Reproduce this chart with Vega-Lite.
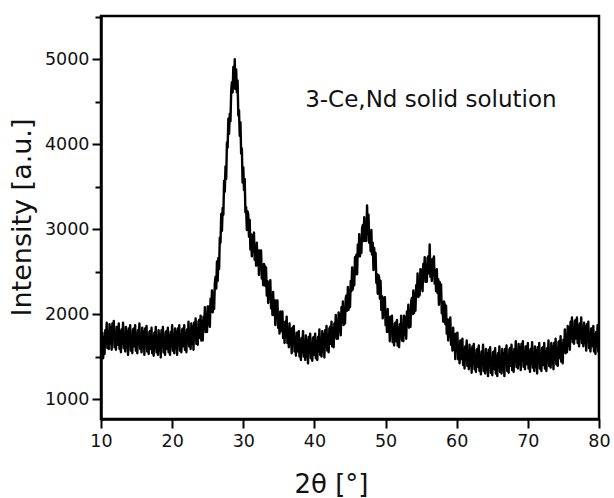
{
"$schema": "https://vega.github.io/schema/vega-lite/v6.json",
"autosize": {"type": "none"},
"padding": {"left": 101, "top": 16, "right": 15, "bottom": 79},
"width": 498,
"height": 403,
"background": "white",
"config": {
 "view": {"stroke": "black", "strokeWidth": 2.5},
 "font": "DejaVu Sans",
 "axis": {"grid": false, "domainColor": "black", "domainWidth": 2.5, "tickColor": "black", "tickWidth": 2, "labelColor": "#111111", "titleColor": "#111111", "labelFont": "DejaVu Sans", "titleFont": "DejaVu Sans", "titleFontWeight": "normal"}
},
"layer": [
 {
  "data": {"values": [
{"x":10.0,"y":1740},{"x":10.1,"y":1530},{"x":10.2,"y":1780},{"x":10.3,"y":1480},{"x":10.4,"y":1720},{"x":10.5,"y":1530},{"x":10.6,"y":1810},{"x":10.7,"y":1650},{"x":10.8,"y":1900},{"x":10.9,"y":1600},
{"x":11.0,"y":1770},{"x":11.1,"y":1590},{"x":11.2,"y":1880},{"x":11.3,"y":1650},{"x":11.4,"y":1840},{"x":11.5,"y":1580},{"x":11.6,"y":1890},{"x":11.7,"y":1700},{"x":11.8,"y":1920},{"x":11.9,"y":1610},
{"x":12.0,"y":1760},{"x":12.1,"y":1580},{"x":12.2,"y":1850},{"x":12.3,"y":1850},{"x":12.4,"y":1640},{"x":12.5,"y":1890},{"x":12.6,"y":1590},{"x":12.7,"y":1790},{"x":12.8,"y":1550},{"x":12.9,"y":1820},
{"x":13.0,"y":1660},{"x":13.1,"y":1900},{"x":13.2,"y":1600},{"x":13.3,"y":1750},{"x":13.4,"y":1560},{"x":13.5,"y":1850},{"x":13.6,"y":1610},{"x":13.7,"y":1800},{"x":13.8,"y":1520},{"x":13.9,"y":1830},
{"x":14.0,"y":1650},{"x":14.1,"y":1870},{"x":14.2,"y":1570},{"x":14.3,"y":1720},{"x":14.4,"y":1540},{"x":14.5,"y":1820},{"x":14.6,"y":1830},{"x":14.7,"y":1620},{"x":14.8,"y":1870},{"x":14.9,"y":1570},
{"x":15.0,"y":1770},{"x":15.1,"y":1540},{"x":15.2,"y":1810},{"x":15.3,"y":1650},{"x":15.4,"y":1890},{"x":15.5,"y":1590},{"x":15.6,"y":1740},{"x":15.7,"y":1550},{"x":15.8,"y":1840},{"x":15.9,"y":1600},
{"x":16.0,"y":1790},{"x":16.1,"y":1520},{"x":16.2,"y":1830},{"x":16.3,"y":1640},{"x":16.4,"y":1860},{"x":16.5,"y":1560},{"x":16.6,"y":1710},{"x":16.7,"y":1530},{"x":16.8,"y":1790},{"x":16.9,"y":1800},
{"x":17.0,"y":1590},{"x":17.1,"y":1840},{"x":17.2,"y":1540},{"x":17.3,"y":1740},{"x":17.4,"y":1510},{"x":17.5,"y":1780},{"x":17.6,"y":1610},{"x":17.7,"y":1850},{"x":17.8,"y":1550},{"x":17.9,"y":1710},
{"x":18.0,"y":1520},{"x":18.1,"y":1810},{"x":18.2,"y":1570},{"x":18.3,"y":1760},{"x":18.4,"y":1490},{"x":18.5,"y":1810},{"x":18.6,"y":1630},{"x":18.7,"y":1850},{"x":18.8,"y":1550},{"x":18.9,"y":1700},
{"x":19.0,"y":1520},{"x":19.1,"y":1790},{"x":19.2,"y":1800},{"x":19.3,"y":1590},{"x":19.4,"y":1840},{"x":19.5,"y":1550},{"x":19.6,"y":1750},{"x":19.7,"y":1520},{"x":19.8,"y":1790},{"x":19.9,"y":1630},
{"x":20.0,"y":1870},{"x":20.1,"y":1570},{"x":20.2,"y":1730},{"x":20.3,"y":1540},{"x":20.4,"y":1830},{"x":20.5,"y":1600},{"x":20.6,"y":1790},{"x":20.7,"y":1520},{"x":20.8,"y":1830},{"x":20.9,"y":1650},
{"x":21.0,"y":1870},{"x":21.1,"y":1570},{"x":21.2,"y":1720},{"x":21.3,"y":1550},{"x":21.4,"y":1820},{"x":21.5,"y":1830},{"x":21.6,"y":1620},{"x":21.7,"y":1870},{"x":21.8,"y":1580},{"x":21.9,"y":1780},
{"x":22.0,"y":1550},{"x":22.1,"y":1820},{"x":22.2,"y":1670},{"x":22.3,"y":1910},{"x":22.4,"y":1620},{"x":22.5,"y":1780},{"x":22.6,"y":1590},{"x":22.7,"y":1890},{"x":22.8,"y":1650},{"x":22.9,"y":1850},
{"x":23.0,"y":1580},{"x":23.1,"y":1900},{"x":23.2,"y":1720},{"x":23.3,"y":1950},{"x":23.4,"y":1650},{"x":23.5,"y":1810},{"x":23.6,"y":1640},{"x":23.7,"y":1910},{"x":23.8,"y":1930},{"x":23.9,"y":1720},
{"x":24.0,"y":1980},{"x":24.1,"y":1690},{"x":24.2,"y":1910},{"x":24.3,"y":1690},{"x":24.4,"y":1970},{"x":24.5,"y":1830},{"x":24.6,"y":2080},{"x":24.7,"y":1790},{"x":24.8,"y":1960},{"x":24.9,"y":1790},
{"x":25.0,"y":2090},{"x":25.1,"y":1880},{"x":25.2,"y":2090},{"x":25.3,"y":1850},{"x":25.4,"y":2180},{"x":25.5,"y":2030},{"x":25.6,"y":2280},{"x":25.7,"y":2020},{"x":25.8,"y":2200},{"x":25.9,"y":2060},
{"x":26.0,"y":2360},{"x":26.1,"y":2440},{"x":26.2,"y":2300},{"x":26.3,"y":2620},{"x":26.4,"y":2390},{"x":26.5,"y":2660},{"x":26.6,"y":2530},{"x":26.7,"y":2900},{"x":26.8,"y":2840},{"x":26.9,"y":3180},
{"x":27.0,"y":2980},{"x":27.1,"y":3250},{"x":27.2,"y":3170},{"x":27.3,"y":3570},{"x":27.4,"y":3440},{"x":27.5,"y":3740},{"x":27.6,"y":3590},{"x":27.7,"y":4020},{"x":27.8,"y":3960},{"x":27.9,"y":4300},
{"x":28.0,"y":4120},{"x":28.1,"y":4360},{"x":28.2,"y":4270},{"x":28.3,"y":4630},{"x":28.4,"y":4730},{"x":28.5,"y":4610},{"x":28.6,"y":4910},{"x":28.7,"y":4660},{"x":28.8,"y":5000},{"x":28.9,"y":4650},
{"x":29.0,"y":4880},{"x":29.1,"y":4610},{"x":29.2,"y":4750},{"x":29.3,"y":4340},{"x":29.4,"y":4400},{"x":29.5,"y":4100},{"x":29.6,"y":4260},{"x":29.7,"y":3890},{"x":29.8,"y":3950},{"x":29.9,"y":3550},
{"x":30.0,"y":3730},{"x":30.1,"y":3460},{"x":30.2,"y":3590},{"x":30.3,"y":3200},{"x":30.4,"y":3260},{"x":30.5,"y":2990},{"x":30.6,"y":3210},{"x":30.7,"y":3170},{"x":30.8,"y":2910},{"x":30.9,"y":3110},
{"x":31.0,"y":2760},{"x":31.1,"y":2940},{"x":31.2,"y":2680},{"x":31.3,"y":2930},{"x":31.4,"y":2740},{"x":31.5,"y":2960},{"x":31.6,"y":2640},{"x":31.7,"y":2780},{"x":31.8,"y":2570},{"x":31.9,"y":2840},
{"x":32.0,"y":2580},{"x":32.1,"y":2750},{"x":32.2,"y":2460},{"x":32.3,"y":2750},{"x":32.4,"y":2550},{"x":32.5,"y":2750},{"x":32.6,"y":2420},{"x":32.7,"y":2550},{"x":32.8,"y":2340},{"x":32.9,"y":2590},
{"x":33.0,"y":2570},{"x":33.1,"y":2330},{"x":33.2,"y":2550},{"x":33.3,"y":2220},{"x":33.4,"y":2390},{"x":33.5,"y":2130},{"x":33.6,"y":2370},{"x":33.7,"y":2180},{"x":33.8,"y":2400},{"x":33.9,"y":2070},
{"x":34.0,"y":2200},{"x":34.1,"y":1990},{"x":34.2,"y":2260},{"x":34.3,"y":1990},{"x":34.4,"y":2160},{"x":34.5,"y":1870},{"x":34.6,"y":2160},{"x":34.7,"y":1960},{"x":34.8,"y":2160},{"x":34.9,"y":1840},
{"x":35.0,"y":1970},{"x":35.1,"y":1770},{"x":35.2,"y":2030},{"x":35.3,"y":2020},{"x":35.4,"y":1800},{"x":35.5,"y":2030},{"x":35.6,"y":1720},{"x":35.7,"y":1900},{"x":35.8,"y":1660},{"x":35.9,"y":1910},
{"x":36.0,"y":1740},{"x":36.1,"y":1970},{"x":36.2,"y":1660},{"x":36.3,"y":1810},{"x":36.4,"y":1610},{"x":36.5,"y":1890},{"x":36.6,"y":1640},{"x":36.7,"y":1820},{"x":36.8,"y":1540},{"x":36.9,"y":1840},
{"x":37.0,"y":1650},{"x":37.1,"y":1860},{"x":37.2,"y":1560},{"x":37.3,"y":1700},{"x":37.4,"y":1510},{"x":37.5,"y":1780},{"x":37.6,"y":1780},{"x":37.7,"y":1560},{"x":37.8,"y":1800},{"x":37.9,"y":1500},
{"x":38.0,"y":1690},{"x":38.1,"y":1460},{"x":38.2,"y":1720},{"x":38.3,"y":1560},{"x":38.4,"y":1800},{"x":38.5,"y":1500},{"x":38.6,"y":1650},{"x":38.7,"y":1460},{"x":38.8,"y":1750},{"x":38.9,"y":1500},
{"x":39.0,"y":1690},{"x":39.1,"y":1420},{"x":39.2,"y":1730},{"x":39.3,"y":1550},{"x":39.4,"y":1770},{"x":39.5,"y":1480},{"x":39.6,"y":1630},{"x":39.7,"y":1450},{"x":39.8,"y":1720},{"x":39.9,"y":1730},
{"x":40.0,"y":1520},{"x":40.1,"y":1770},{"x":40.2,"y":1480},{"x":40.3,"y":1680},{"x":40.4,"y":1460},{"x":40.5,"y":1730},{"x":40.6,"y":1570},{"x":40.7,"y":1820},{"x":40.8,"y":1520},{"x":40.9,"y":1690},
{"x":41.0,"y":1500},{"x":41.1,"y":1800},{"x":41.2,"y":1560},{"x":41.3,"y":1760},{"x":41.4,"y":1490},{"x":41.5,"y":1810},{"x":41.6,"y":1640},{"x":41.7,"y":1860},{"x":41.8,"y":1570},{"x":41.9,"y":1720},
{"x":42.0,"y":1550},{"x":42.1,"y":1830},{"x":42.2,"y":1850},{"x":42.3,"y":1650},{"x":42.4,"y":1910},{"x":42.5,"y":1620},{"x":42.6,"y":1830},{"x":42.7,"y":1610},{"x":42.8,"y":1890},{"x":42.9,"y":1740},
{"x":43.0,"y":1990},{"x":43.1,"y":1710},{"x":43.2,"y":1880},{"x":43.3,"y":1710},{"x":43.4,"y":2020},{"x":43.5,"y":1800},{"x":43.6,"y":2000},{"x":43.7,"y":1750},{"x":43.8,"y":2080},{"x":43.9,"y":1910},
{"x":44.0,"y":2150},{"x":44.1,"y":1870},{"x":44.2,"y":2050},{"x":44.3,"y":1890},{"x":44.4,"y":2190},{"x":44.5,"y":2220},{"x":44.6,"y":2040},{"x":44.7,"y":2320},{"x":44.8,"y":2050},{"x":44.9,"y":2280},
{"x":45.0,"y":2080},{"x":45.1,"y":2390},{"x":45.2,"y":2270},{"x":45.3,"y":2550},{"x":45.4,"y":2290},{"x":45.5,"y":2490},{"x":45.6,"y":2340},{"x":45.7,"y":2670},{"x":45.8,"y":2470},{"x":45.9,"y":2700},
{"x":46.0,"y":2470},{"x":46.1,"y":2820},{"x":46.2,"y":2680},{"x":46.3,"y":2940},{"x":46.4,"y":2680},{"x":46.5,"y":2870},{"x":46.6,"y":2720},{"x":46.7,"y":3010},{"x":46.8,"y":3050},{"x":46.9,"y":2860},
{"x":47.0,"y":3140},{"x":47.1,"y":2860},{"x":47.2,"y":3070},{"x":47.3,"y":2860},{"x":47.4,"y":3280},{"x":47.5,"y":2940},{"x":47.6,"y":3170},{"x":47.7,"y":2840},{"x":47.8,"y":2960},{"x":47.9,"y":2740},
{"x":48.0,"y":2990},{"x":48.1,"y":2700},{"x":48.2,"y":2840},{"x":48.3,"y":2520},{"x":48.4,"y":2780},{"x":48.5,"y":2550},{"x":48.6,"y":2720},{"x":48.7,"y":2370},{"x":48.8,"y":2470},{"x":48.9,"y":2240},
{"x":49.0,"y":2460},{"x":49.1,"y":2430},{"x":49.2,"y":2180},{"x":49.3,"y":2390},{"x":49.4,"y":2050},{"x":49.5,"y":2210},{"x":49.6,"y":1950},{"x":49.7,"y":2190},{"x":49.8,"y":1990},{"x":49.9,"y":2200},
{"x":50.0,"y":1870},{"x":50.1,"y":2010},{"x":50.2,"y":1790},{"x":50.3,"y":2060},{"x":50.4,"y":1790},{"x":50.5,"y":1960},{"x":50.6,"y":1680},{"x":50.7,"y":1970},{"x":50.8,"y":1780},{"x":50.9,"y":1980},
{"x":51.0,"y":1670},{"x":51.1,"y":1810},{"x":51.2,"y":1630},{"x":51.3,"y":1890},{"x":51.4,"y":1900},{"x":51.5,"y":1680},{"x":51.6,"y":1930},{"x":51.7,"y":1630},{"x":51.8,"y":1840},{"x":51.9,"y":1610},
{"x":52.0,"y":1880},{"x":52.1,"y":1730},{"x":52.2,"y":1980},{"x":52.3,"y":1690},{"x":52.4,"y":1860},{"x":52.5,"y":1680},{"x":52.6,"y":1980},{"x":52.7,"y":1760},{"x":52.8,"y":1960},{"x":52.9,"y":1710},
{"x":53.0,"y":2030},{"x":53.1,"y":1870},{"x":53.2,"y":2110},{"x":53.3,"y":1840},{"x":53.4,"y":2010},{"x":53.5,"y":1850},{"x":53.6,"y":2150},{"x":53.7,"y":2190},{"x":53.8,"y":2000},{"x":53.9,"y":2280},
{"x":54.0,"y":2010},{"x":54.1,"y":2240},{"x":54.2,"y":2040},{"x":54.3,"y":2340},{"x":54.4,"y":2210},{"x":54.5,"y":2480},{"x":54.6,"y":2200},{"x":54.7,"y":2380},{"x":54.8,"y":2220},{"x":54.9,"y":2530},
{"x":55.0,"y":2310},{"x":55.1,"y":2520},{"x":55.2,"y":2270},{"x":55.3,"y":2590},{"x":55.4,"y":2430},{"x":55.5,"y":2670},{"x":55.6,"y":2380},{"x":55.7,"y":2540},{"x":55.8,"y":2380},{"x":55.9,"y":2660},
{"x":56.0,"y":2680},{"x":56.1,"y":2480},{"x":56.2,"y":2820},{"x":56.3,"y":2440},{"x":56.4,"y":2630},{"x":56.5,"y":2390},{"x":56.6,"y":2650},{"x":56.7,"y":2470},{"x":56.8,"y":2680},{"x":56.9,"y":2360},
{"x":57.0,"y":2490},{"x":57.1,"y":2270},{"x":57.2,"y":2530},{"x":57.3,"y":2250},{"x":57.4,"y":2410},{"x":57.5,"y":2110},{"x":57.6,"y":2380},{"x":57.7,"y":2160},{"x":57.8,"y":2350},{"x":57.9,"y":2010},
{"x":58.0,"y":2120},{"x":58.1,"y":1910},{"x":58.2,"y":2150},{"x":58.3,"y":2120},{"x":58.4,"y":1880},{"x":58.5,"y":2100},{"x":58.6,"y":1770},{"x":58.7,"y":1940},{"x":58.8,"y":1690},{"x":58.9,"y":1930},
{"x":59.0,"y":1740},{"x":59.1,"y":1960},{"x":59.2,"y":1640},{"x":59.3,"y":1780},{"x":59.4,"y":1570},{"x":59.5,"y":1840},{"x":59.6,"y":1580},{"x":59.7,"y":1760},{"x":59.8,"y":1470},{"x":59.9,"y":1770},
{"x":60.0,"y":1570},{"x":60.1,"y":1780},{"x":60.2,"y":1470},{"x":60.3,"y":1610},{"x":60.4,"y":1420},{"x":60.5,"y":1690},{"x":60.6,"y":1690},{"x":60.7,"y":1470},{"x":60.8,"y":1710},{"x":60.9,"y":1400},
{"x":61.0,"y":1590},{"x":61.1,"y":1360},{"x":61.2,"y":1620},{"x":61.3,"y":1460},{"x":61.4,"y":1690},{"x":61.5,"y":1390},{"x":61.6,"y":1550},{"x":61.7,"y":1350},{"x":61.8,"y":1640},{"x":61.9,"y":1390},
{"x":62.0,"y":1580},{"x":62.1,"y":1310},{"x":62.2,"y":1620},{"x":62.3,"y":1430},{"x":62.4,"y":1650},{"x":62.5,"y":1350},{"x":62.6,"y":1500},{"x":62.7,"y":1320},{"x":62.8,"y":1580},{"x":62.9,"y":1590},
{"x":63.0,"y":1380},{"x":63.1,"y":1630},{"x":63.2,"y":1330},{"x":63.3,"y":1520},{"x":63.4,"y":1290},{"x":63.5,"y":1560},{"x":63.6,"y":1400},{"x":63.7,"y":1640},{"x":63.8,"y":1330},{"x":63.9,"y":1490},
{"x":64.0,"y":1300},{"x":64.1,"y":1590},{"x":64.2,"y":1350},{"x":64.3,"y":1540},{"x":64.4,"y":1270},{"x":64.5,"y":1580},{"x":64.6,"y":1390},{"x":64.7,"y":1610},{"x":64.8,"y":1310},{"x":64.9,"y":1460},
{"x":65.0,"y":1280},{"x":65.1,"y":1550},{"x":65.2,"y":1560},{"x":65.3,"y":1350},{"x":65.4,"y":1600},{"x":65.5,"y":1300},{"x":65.6,"y":1500},{"x":65.7,"y":1270},{"x":65.8,"y":1540},{"x":65.9,"y":1380},
{"x":66.0,"y":1620},{"x":66.1,"y":1320},{"x":66.2,"y":1480},{"x":66.3,"y":1300},{"x":66.4,"y":1590},{"x":66.5,"y":1350},{"x":66.6,"y":1540},{"x":66.7,"y":1270},{"x":66.8,"y":1590},{"x":66.9,"y":1410},
{"x":67.0,"y":1630},{"x":67.1,"y":1330},{"x":67.2,"y":1490},{"x":67.3,"y":1310},{"x":67.4,"y":1580},{"x":67.5,"y":1600},{"x":67.6,"y":1390},{"x":67.7,"y":1640},{"x":67.8,"y":1340},{"x":67.9,"y":1550},
{"x":68.0,"y":1320},{"x":68.1,"y":1590},{"x":68.2,"y":1440},{"x":68.3,"y":1680},{"x":68.4,"y":1380},{"x":68.5,"y":1550},{"x":68.6,"y":1360},{"x":68.7,"y":1650},{"x":68.8,"y":1410},{"x":68.9,"y":1610},
{"x":69.0,"y":1340},{"x":69.1,"y":1650},{"x":69.2,"y":1470},{"x":69.3,"y":1680},{"x":69.4,"y":1380},{"x":69.5,"y":1530},{"x":69.6,"y":1350},{"x":69.7,"y":1620},{"x":69.8,"y":1620},{"x":69.9,"y":1410},
{"x":70.0,"y":1660},{"x":70.1,"y":1360},{"x":70.2,"y":1560},{"x":70.3,"y":1320},{"x":70.4,"y":1590},{"x":70.5,"y":1430},{"x":70.6,"y":1670},{"x":70.7,"y":1370},{"x":70.8,"y":1520},{"x":70.9,"y":1330},
{"x":71.0,"y":1620},{"x":71.1,"y":1380},{"x":71.2,"y":1570},{"x":71.3,"y":1300},{"x":71.4,"y":1610},{"x":71.5,"y":1440},{"x":71.6,"y":1660},{"x":71.7,"y":1360},{"x":71.8,"y":1510},{"x":71.9,"y":1330},
{"x":72.0,"y":1600},{"x":72.1,"y":1610},{"x":72.2,"y":1400},{"x":72.3,"y":1660},{"x":72.4,"y":1360},{"x":72.5,"y":1560},{"x":72.6,"y":1330},{"x":72.7,"y":1600},{"x":72.8,"y":1450},{"x":72.9,"y":1690},
{"x":73.0,"y":1390},{"x":73.1,"y":1550},{"x":73.2,"y":1370},{"x":73.3,"y":1660},{"x":73.4,"y":1420},{"x":73.5,"y":1620},{"x":73.6,"y":1350},{"x":73.7,"y":1660},{"x":73.8,"y":1480},{"x":73.9,"y":1710},
{"x":74.0,"y":1410},{"x":74.1,"y":1570},{"x":74.2,"y":1390},{"x":74.3,"y":1670},{"x":74.4,"y":1680},{"x":74.5,"y":1480},{"x":74.6,"y":1740},{"x":74.7,"y":1440},{"x":74.8,"y":1650},{"x":74.9,"y":1420},
{"x":75.0,"y":1700},{"x":75.1,"y":1560},{"x":75.2,"y":1820},{"x":75.3,"y":1540},{"x":75.4,"y":1720},{"x":75.5,"y":1550},{"x":75.6,"y":1860},{"x":75.7,"y":1630},{"x":75.8,"y":1840},{"x":75.9,"y":1580},
{"x":76.0,"y":1910},{"x":76.1,"y":1740},{"x":76.2,"y":1960},{"x":76.3,"y":1670},{"x":76.4,"y":1820},{"x":76.5,"y":1650},{"x":76.6,"y":1920},{"x":76.7,"y":1930},{"x":76.8,"y":1710},{"x":76.9,"y":1960},
{"x":77.0,"y":1660},{"x":77.1,"y":1860},{"x":77.2,"y":1620},{"x":77.3,"y":1890},{"x":77.4,"y":1720},{"x":77.5,"y":1960},{"x":77.6,"y":1660},{"x":77.7,"y":1810},{"x":77.8,"y":1620},{"x":77.9,"y":1900},
{"x":78.0,"y":1660},{"x":78.1,"y":1850},{"x":78.2,"y":1570},{"x":78.3,"y":1880},{"x":78.4,"y":1690},{"x":78.5,"y":1910},{"x":78.6,"y":1600},{"x":78.7,"y":1750},{"x":78.8,"y":1560},{"x":78.9,"y":1830},
{"x":79.0,"y":1830},{"x":79.1,"y":1620},{"x":79.2,"y":1860},{"x":79.3,"y":1560},{"x":79.4,"y":1760},{"x":79.5,"y":1530},{"x":79.6,"y":1790},{"x":79.7,"y":1630},{"x":79.8,"y":1870},{"x":79.9,"y":1560},
{"x":80.0,"y":1720}
  ]},
  "mark": {"type": "line", "color": "black", "strokeWidth": 2.4, "strokeJoin": "round", "clip": true},
  "encoding": {
   "x": {"field": "x", "type": "quantitative",
    "scale": {"domain": [10, 80], "nice": false, "zero": false},
    "axis": {
     "values": [10,15,20,25,30,35,40,45,50,55,60,65,70,75,80],
     "labelExpr": "datum.value % 10 === 0 ? datum.label : ''",
     "tickSize": {"condition": {"test": "datum.value % 10 === 0", "value": 9}, "value": 5},
     "labelFontSize": 17.5, "labelPadding": 4, "labelFlush": false,
     "title": "2θ [°]", "titleFontSize": 26, "titleX": 230, "titleY": 73, "titleBaseline": "alphabetic", "titleAlign": "center"
    }
   },
   "y": {"field": "y", "type": "quantitative",
    "scale": {"domain": [765, 5510], "nice": false, "zero": false},
    "axis": {
     "values": [1000,1250,1500,1750,2000,2250,2500,2750,3000,3250,3500,3750,4000,4250,4500,4750,5000,5250,5500],
     "labelExpr": "datum.value % 1000 === 0 ? datum.label : ''",
     "format": "d",
     "tickSize": {"condition": {"test": "datum.value % 1000 === 0", "value": 9}, "value": 6},
     "labelFontSize": 17.5, "labelPadding": 3, "labelFlush": false,
     "title": "Intensity [a.u.]", "titleFontSize": 27, "titleX": -71, "titleY": 201, "titleAlign": "center", "titleBaseline": "alphabetic", "titleAngle": 270
    }
   }
  }
 },
 {
  "data": {"values": [{"label": "3-Ce,Nd solid solution", "x": 38.7, "y": 4440}]},
  "mark": {"type": "text", "align": "left", "baseline": "alphabetic", "fontSize": 23, "font": "DejaVu Sans", "color": "#111111"},
  "encoding": {
   "x": {"field": "x", "type": "quantitative"},
   "y": {"field": "y", "type": "quantitative"},
   "text": {"field": "label"}
  }
 }
]
}
